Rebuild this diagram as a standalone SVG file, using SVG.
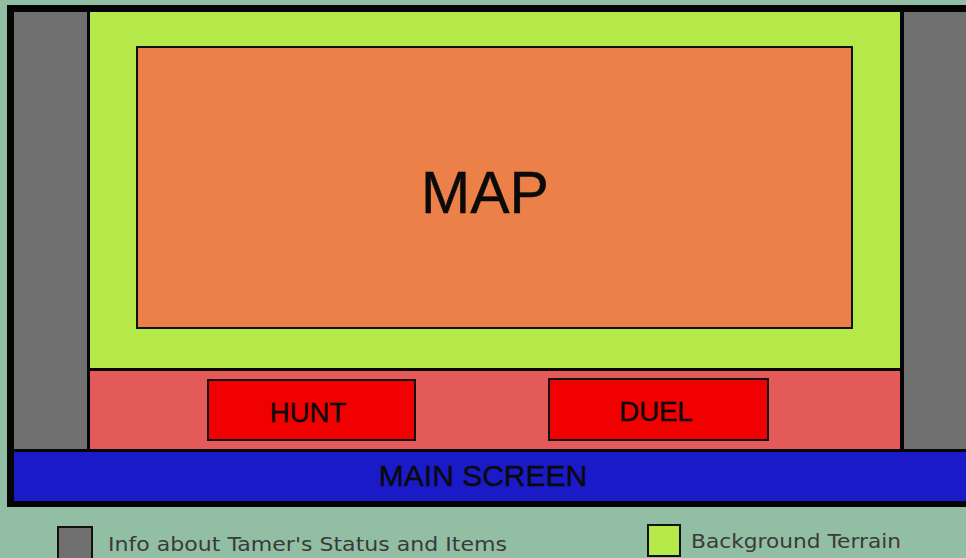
<svg xmlns="http://www.w3.org/2000/svg" width="966" height="558" viewBox="0 0 966 558">
<style>
.lbl{font-family:"Liberation Sans",Arial,sans-serif;fill:#0a0a0a;text-anchor:middle;stroke:#0a0a0a;stroke-width:0.4}
.leg{font-family:"DejaVu Sans",Verdana,sans-serif;fill:#3a3a3a;font-size:20px}
.box{stroke:#111;stroke-width:2}
</style>
<rect x="0" y="0" width="966" height="558" fill="#92bfa3"/>
<g id="frame">
<rect x="7" y="5" width="970" height="502" fill="#050505"/>
</g>
<g id="left-panel"><rect x="14" y="12" width="73" height="437" fill="#707070"/></g>
<g id="right-panel"><rect x="904" y="12" width="70" height="437" fill="#707070"/></g>
<g id="terrain"><rect x="90" y="12" width="810" height="356" fill="#b5e94a"/></g>
<g id="map">
<rect class="box" x="137" y="47" width="715" height="281" fill="#eb8048"/>
<text class="lbl" x="485" y="213" font-size="59">MAP</text>
</g>
<g id="action-bar"><rect x="90" y="371" width="810" height="78" fill="#e45a58"/></g>
<g id="hunt">
<rect class="box" x="208" y="380" width="207" height="60" fill="#f00000"/>
<text class="lbl" x="308" y="422" font-size="27.5">HUNT</text>
</g>
<g id="duel">
<rect class="box" x="549" y="379" width="219" height="61" fill="#f00000"/>
<text class="lbl" x="656" y="421" font-size="27.5">DUEL</text>
</g>
<g id="main-screen">
<rect x="14" y="452" width="960" height="49" fill="#1a1ac8"/>
<text class="lbl" x="483" y="486" font-size="30">MAIN SCREEN</text>
</g>
<g id="legend-info">
<rect class="box" x="58" y="527" width="34" height="34" fill="#707070"/>
<text class="leg" x="108" y="551" textLength="399" lengthAdjust="spacingAndGlyphs">Info about Tamer's Status and Items</text>
</g>
<g id="legend-terrain">
<rect class="box" x="648" y="525" width="32" height="31" fill="#b5e94a"/>
<text class="leg" x="691" y="548" textLength="210" lengthAdjust="spacingAndGlyphs">Background Terrain</text>
</g>
<g id="connectors"></g>
</svg>
